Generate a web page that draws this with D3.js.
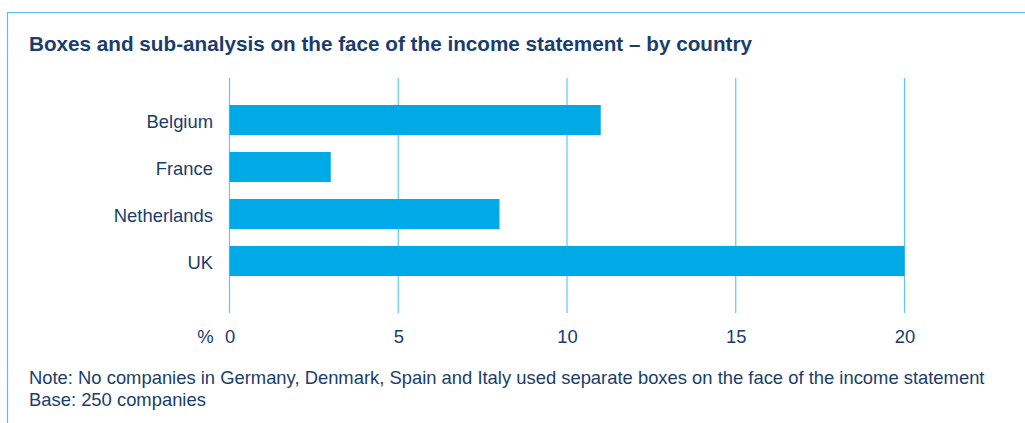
<!DOCTYPE html>
<html><head><meta charset="utf-8">
<script src="https://cdn.jsdelivr.net/npm/d3@7"></script>
<style>
html,body{margin:0;padding:0;background:#fff;}
svg{display:block;}
text{font-family:"Liberation Sans",Arial,Helvetica,sans-serif;}
</style></head>
<body>
<svg id="chart" width="1025" height="423"></svg>
<script>
const title = "Boxes and sub-analysis on the face of the income statement \u2013 by country";
const countries = ["Belgium", "France", "Netherlands", "UK"];
const values = [11, 3, 8, 20];
const ticks = [0, 5, 10, 15, 20];
const unitLabel = "%";
const notes = ["Note: No companies in Germany, Denmark, Spain and Italy used separate boxes on the face of the income statement", "Base: 250 companies"];

const navy = "#1a3d6b", bar = "#00aae6", grid = "#5ec8f2", frame = "#55c1ee";
const fs = 18.4;
const svg = d3.select("#chart");

// frame
svg.append("path").attr("d", "M7.5,423 V12.5 H1025").attr("fill", "none").attr("stroke", frame).attr("stroke-width", 1.2);

const t = svg.append("text").attr("x", 29).attr("y", 51).attr("fill", navy)
  .attr("font-size", 20.5).attr("font-weight", "bold").text(title);
t.attr("textLength", 723).attr("lengthAdjust", "spacingAndGlyphs");

const x = d3.scaleLinear().domain([0, 20]).range([229.5, 904.5]);
const y = d3.scaleBand().domain(countries).range([96.5, 284.5]).paddingInner(17/47).paddingOuter(17/94);

// gridlines
svg.append("g").selectAll("line").data(ticks).join("line")
  .attr("x1", d => x(d)).attr("x2", d => x(d)).attr("y1", 78).attr("y2", 313)
  .attr("stroke", grid).attr("stroke-width", 1.2);

svg.append("g").selectAll("rect").data(countries).join("rect")
  .attr("x", x(0)).attr("y", c => y(c)).attr("height", y.bandwidth())
  .attr("width", (c, i) => x(values[i]) - x(0)).attr("fill", bar);

// axis tick labels
const xAxis = d3.axisBottom(x).tickValues(ticks).tickSize(0).tickPadding(0);
const gx = svg.append("g").attr("transform", "translate(0,343)").call(xAxis);
gx.select(".domain").remove();
gx.selectAll("text").attr("dy", 0).attr("fill", navy).attr("font-size", fs).attr("font-family", "Liberation Sans, Arial, sans-serif");

svg.append("text").attr("x", 213.5).attr("y", 343).attr("text-anchor", "end").attr("fill", navy).attr("font-size", fs).text(unitLabel);

const yAxis = d3.axisLeft(y).tickSize(0).tickPadding(16.5);
const gy = svg.append("g").attr("transform", `translate(${x(0)},0)`).call(yAxis);
gy.select(".domain").remove();
gy.selectAll("text").attr("dy", "0.42em").attr("fill", navy).attr("font-size", fs).attr("font-family", "Liberation Sans, Arial, sans-serif");

svg.append("g").selectAll("text").data(notes).join("text")
  .attr("x", 29).attr("y", (d, i) => 384 + i * 22).attr("fill", navy).attr("font-size", fs).text(d => d);
</script>
</body></html>
